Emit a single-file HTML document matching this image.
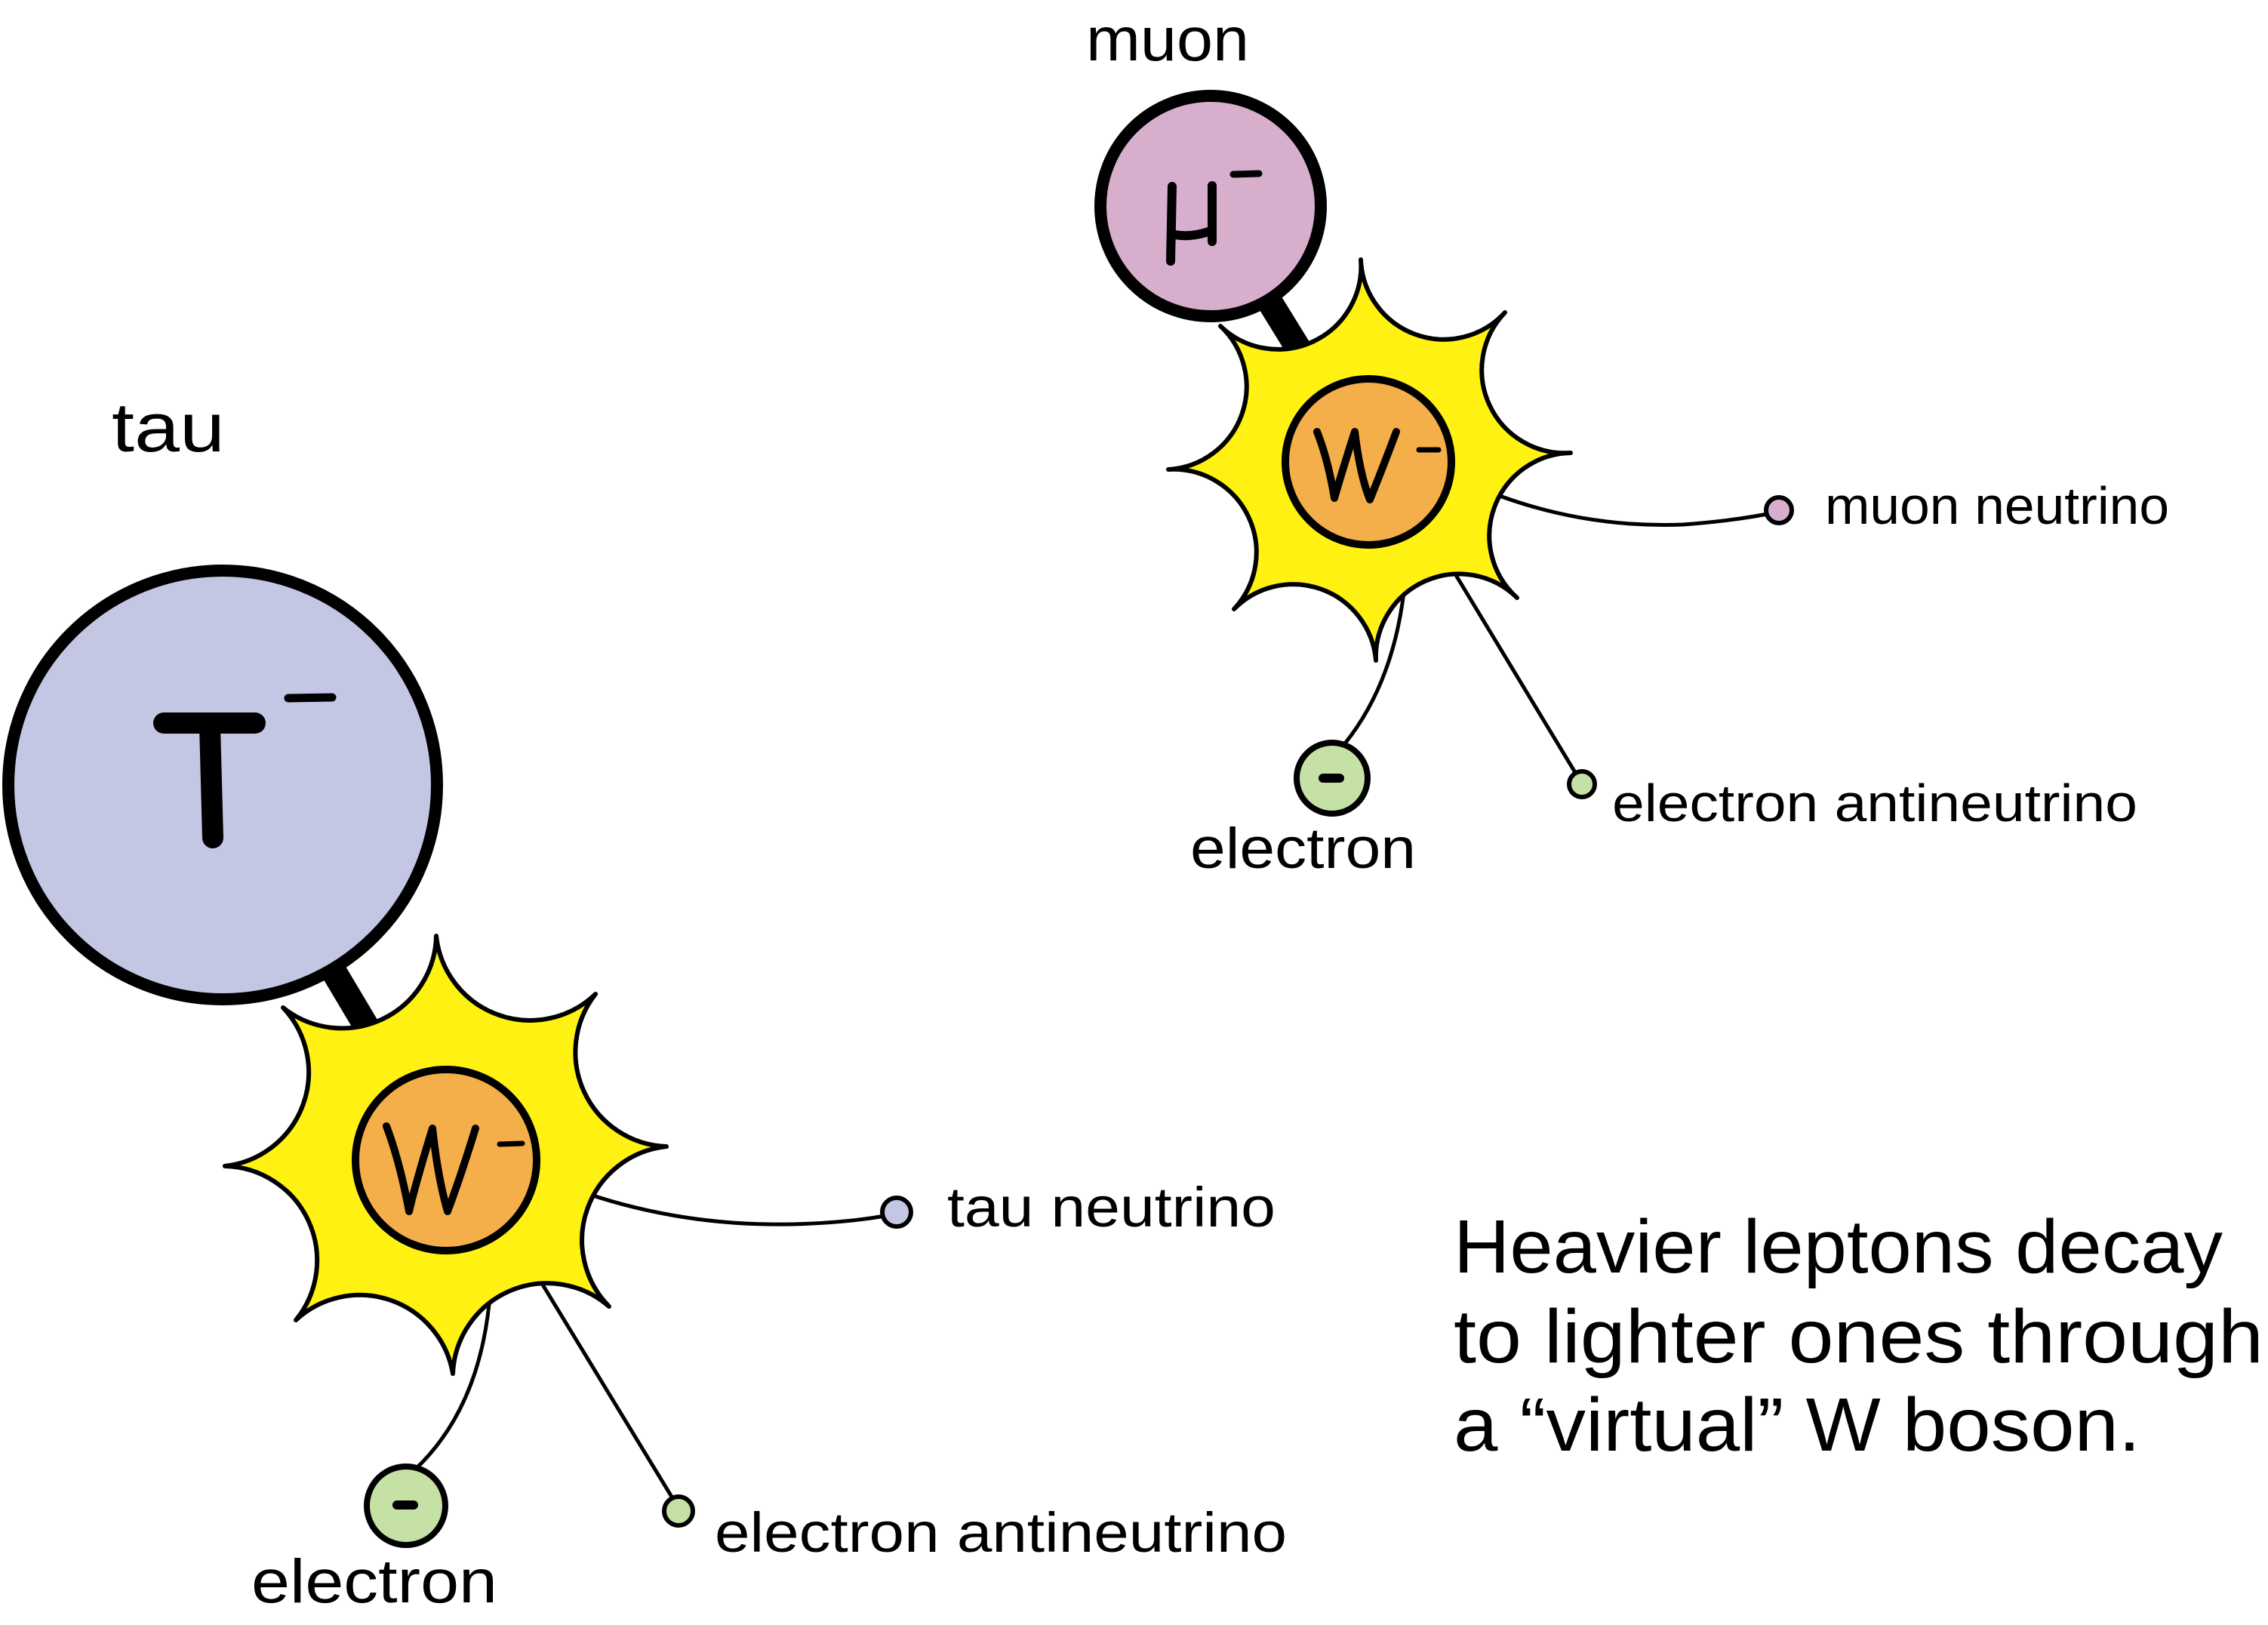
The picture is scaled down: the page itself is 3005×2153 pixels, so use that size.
<!DOCTYPE html>
<html><head><meta charset="utf-8"><style>
html,body{margin:0;padding:0;background:#fff}
svg{display:block}
text{font-family:"Liberation Sans",sans-serif;fill:#000}
</style></head><body>
<svg width="3005" height="2153" viewBox="0 0 3005 2153" xmlns="http://www.w3.org/2000/svg">
<line x1="295" y1="1040" x2="591" y2="1537" stroke="#000" stroke-width="34"/>
<circle cx="295" cy="1040" r="284" fill="#c3c7e4" stroke="#000" stroke-width="16"/>
<path d="M217,958 L338,958 M278,962 L282,1110" stroke="#000" stroke-width="28" stroke-linecap="round" fill="none"/>
<path d="M382,925 L440,924" stroke="#000" stroke-width="11" stroke-linecap="round"/>
<path d="M765,1577 Q900,1625 1050,1622 Q1130,1620 1188,1608" stroke="#000" stroke-width="5" fill="none"/>
<path d="M650,1705 Q640,1860 552,1945" stroke="#000" stroke-width="5" fill="none"/>
<line x1="711" y1="1689" x2="899" y2="1998" stroke="#000" stroke-width="5"/>
<path d="M578,1240 A125 125 0 0 0 789,1317 A125 125 0 0 0 883,1519 A125 125 0 0 0 807,1731 A125 125 0 0 0 600,1820 A125 125 0 0 0 392,1749 A125 125 0 0 0 298,1545 A125 125 0 0 0 375,1335 A125 125 0 0 0 578,1240 Z" fill="#fff212" stroke="#000" stroke-width="6" stroke-linejoin="round"/>
<circle cx="591" cy="1537" r="120" fill="#f4af4a" stroke="#000" stroke-width="10"/>
<path d="M512,1492 Q530,1540 542,1605 Q550,1570 573,1495 Q580,1560 593,1605 Q610,1560 630,1495" stroke="#000" stroke-width="10" stroke-linecap="round" stroke-linejoin="round" fill="none"/>
<path d="M662,1516 L692,1515" stroke="#000" stroke-width="7" stroke-linecap="round"/>
<circle cx="1188" cy="1606" r="19" fill="#c3c7e4" stroke="#000" stroke-width="6"/>
<circle cx="538" cy="1995" r="52" fill="#c5e1a5" stroke="#000" stroke-width="8"/>
<path d="M526,1994 L548,1994" stroke="#000" stroke-width="12" stroke-linecap="round"/>
<circle cx="899" cy="2002" r="19" fill="#c5e1a5" stroke="#000" stroke-width="6"/>
<text x="148" y="598" font-size="92" textLength="150" lengthAdjust="spacingAndGlyphs">tau</text>
<text x="1255" y="1625" font-size="74" textLength="435" lengthAdjust="spacingAndGlyphs">tau neutrino</text>
<text x="947" y="2056" font-size="74" textLength="758" lengthAdjust="spacingAndGlyphs">electron antineutrino</text>
<text x="333" y="2123" font-size="82" textLength="326" lengthAdjust="spacingAndGlyphs">electron</text>

<line x1="1604" y1="273" x2="1813" y2="612" stroke="#000" stroke-width="34"/>
<circle cx="1604" cy="273" r="146" fill="#d7afcd" stroke="#000" stroke-width="16"/>
<path d="M1553,247 L1551,346 M1553,310 Q1575,316 1604,306 M1606,246 L1606,320" stroke="#000" stroke-width="12" stroke-linecap="round" fill="none"/>
<path d="M1634,231 L1668,230" stroke="#000" stroke-width="9" stroke-linecap="round"/>
<path d="M1979,654 Q2100,700 2230,695 Q2300,690 2357,678" stroke="#000" stroke-width="5" fill="none"/>
<path d="M1862,766 Q1850,900 1782,985" stroke="#000" stroke-width="5" fill="none"/>
<line x1="1926" y1="757" x2="2094" y2="1035" stroke="#000" stroke-width="5"/>
<path d="M1803,344 A110 110 0 0 0 1994,414 A110 110 0 0 0 2081,600 A110 110 0 0 0 2010,792 A110 110 0 0 0 1823,875 A110 110 0 0 0 1635,807 A110 110 0 0 0 1548,622 A110 110 0 0 0 1617,432 A110 110 0 0 0 1803,344 Z" fill="#fff212" stroke="#000" stroke-width="6" stroke-linejoin="round"/>
<circle cx="1813" cy="612" r="110" fill="#f4af4a" stroke="#000" stroke-width="10"/>
<path d="M1745,572 Q1760,610 1768,660 Q1778,625 1795,572 Q1802,630 1815,662 Q1832,620 1850,572" stroke="#000" stroke-width="10" stroke-linecap="round" stroke-linejoin="round" fill="none"/>
<path d="M1880,596 L1906,596" stroke="#000" stroke-width="7" stroke-linecap="round"/>
<circle cx="2357" cy="676" r="17" fill="#d7afcd" stroke="#000" stroke-width="6"/>
<circle cx="1765" cy="1031" r="47" fill="#c5e1a5" stroke="#000" stroke-width="8"/>
<path d="M1753,1031 L1775,1031" stroke="#000" stroke-width="12" stroke-linecap="round"/>
<circle cx="2096" cy="1039" r="17" fill="#c5e1a5" stroke="#000" stroke-width="6"/>
<text x="1439" y="80" font-size="82" textLength="216" lengthAdjust="spacingAndGlyphs">muon</text>
<text x="2418" y="694" font-size="70" textLength="456" lengthAdjust="spacingAndGlyphs">muon neutrino</text>
<text x="2136" y="1088" font-size="70" textLength="696" lengthAdjust="spacingAndGlyphs">electron antineutrino</text>
<text x="1577" y="1150" font-size="76" textLength="299" lengthAdjust="spacingAndGlyphs">electron</text>

<text x="1926" y="1686" font-size="100" textLength="1019" lengthAdjust="spacingAndGlyphs">Heavier leptons decay</text>
<text x="1926" y="1805" font-size="100" textLength="1073" lengthAdjust="spacingAndGlyphs">to lighter ones through</text>
<text x="1926" y="1922" font-size="100" textLength="910" lengthAdjust="spacingAndGlyphs">a “virtual” W boson.</text>
</svg>
</body></html>
